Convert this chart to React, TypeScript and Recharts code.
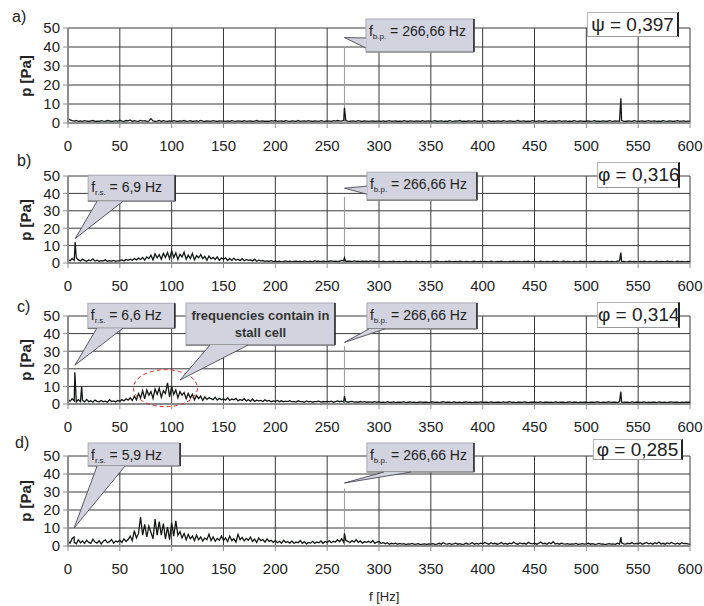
import React from 'react';
import { LineChart, Line, XAxis, YAxis, CartesianGrid, ReferenceDot, ReferenceLine } from 'recharts';

// spectrum bins are 2 Hz apart, starting at 0 Hz
const BIN_HZ = 2;

const xTicks = [0, 50, 100, 150, 200, 250, 300, 350, 400, 450, 500, 550, 600];
const yTicks = [0, 10, 20, 30, 40, 50];

// a) psi = 0,397
const spectrumA = [
  2.4, 1.6, 1.2, 1.0, 1.3, 0.8, 1.1, 0.9, 1.2, 1.0, 0.8, 1.1, 1.3, 0.9, 1.0, 0.8, 1.2, 1.0, 0.9, 1.3, 1.1, 0.8, 1.0, 1.2, 0.9,
  1.5, 1.0, 0.9, 1.3, 1.1, 1.6, 0.8, 1.2, 1.0, 0.9, 1.4, 1.0, 1.2, 0.9, 1.0, 2.3, 1.1, 0.9, 1.0, 1.3, 0.8, 1.2, 1.0, 0.9, 1.1,
  0.9, 1.2, 1.0, 0.8, 1.1, 1.0, 1.3, 0.9, 1.0, 1.2, 0.8, 1.0, 1.1, 0.9, 1.4, 1.0, 0.8, 1.1, 1.0, 0.9, 1.2, 1.0, 0.8, 1.1, 1.0,
  1.0, 0.9, 1.1, 0.8, 1.2, 1.0, 0.9, 1.1, 1.0, 0.8, 1.2, 0.9, 1.0, 1.1, 0.8, 1.0, 1.3, 0.9, 1.0, 1.1, 0.8, 1.0, 0.9, 1.2, 1.0,
  1.4, 0.9, 1.0, 1.1, 0.8, 1.2, 1.0, 0.9, 1.1, 1.0, 0.8, 1.3, 0.9, 1.0, 1.1, 0.9, 1.2, 1.0, 0.8, 1.1, 1.0, 0.9, 1.2, 1.0, 0.9,
  1.1, 1.0, 0.9, 1.2, 1.0, 1.3, 1.1, 1.0, 1.4, 1.2, 1.0, 0.9, 1.1, 1.0, 0.9, 1.2, 1.0, 0.8, 1.1, 1.0, 0.9, 1.0, 1.1, 0.8, 1.0,
  1.0, 0.9, 1.1, 0.8, 1.0, 1.2, 0.9, 1.0, 1.1, 0.8, 1.0, 0.9, 1.2, 1.0, 0.8, 1.1, 1.0, 0.9, 1.1, 1.0, 0.8, 1.2, 0.9, 1.0, 1.1,
  0.9, 1.0, 1.2, 0.8, 1.0, 1.1, 0.9, 1.0, 0.8, 1.2, 1.0, 0.9, 1.1, 1.0, 1.3, 0.9, 1.0, 0.8, 1.1, 1.0, 0.9, 1.2, 1.0, 0.8, 1.0,
  1.1, 0.9, 1.0, 1.2, 0.8, 1.0, 0.9, 1.1, 1.0, 0.8, 1.2, 1.0, 0.9, 1.1, 1.0, 0.8, 1.0, 1.3, 0.9, 1.0, 1.1, 0.8, 1.0, 0.9, 1.2,
  1.0, 0.9, 1.1, 1.0, 0.8, 1.2, 1.0, 0.9, 1.0, 1.1, 0.8, 1.0, 1.2, 0.9, 1.0, 1.1, 0.9, 1.0, 0.8, 1.2, 1.0, 0.9, 1.1, 1.0, 0.8,
  1.0, 1.1, 0.9, 1.0, 1.2, 0.8, 1.0, 0.9, 1.1, 1.0, 0.8, 1.2, 1.0, 0.9, 1.1, 1.0, 0.9, 1.3, 1.0, 0.8, 1.1, 1.0, 0.9, 1.2, 1.0,
  0.9, 1.0, 1.1, 0.8, 1.0, 1.2, 0.9, 1.0, 1.1, 0.9, 1.0, 0.8, 1.2, 1.0, 0.9, 1.1, 1.0, 0.8, 1.0, 1.2, 0.9, 1.0, 1.1, 0.9, 1.0,
  1.0,
];
const peaksA: [number, number][] = [[266.66, 8], [533.3, 13]];

// b) phi = 0,316
const spectrumB = [
  2.0, 1.2, 2.6, 1.5, 3.0, 1.8, 1.2, 2.2, 1.5, 1.0, 1.8, 1.3, 2.4, 1.1, 1.6, 1.0, 1.4, 1.2, 1.8, 1.0, 1.3, 1.1, 1.5, 0.9, 1.2,
  1.4, 1.8, 1.2, 2.0, 1.5, 2.2, 1.6, 2.5, 1.8, 2.8, 2.0, 3.2, 1.6, 3.5, 2.6, 4.5, 1.8, 5.2, 3.0, 4.8, 2.2, 5.5, 3.2, 6.0, 2.4,
  7.0, 3.2, 5.8, 2.0, 5.0, 3.5, 6.2, 2.2, 4.5, 2.6, 5.5, 1.8, 4.2, 3.0, 4.8, 2.5, 3.8, 1.6, 4.0, 2.4, 3.2, 2.0, 3.5, 1.5, 2.8,
  2.2, 3.0, 1.4, 2.6, 1.5, 2.8, 1.6, 2.2, 1.4, 2.5, 1.3, 2.0, 1.5, 1.8, 1.2, 2.2, 1.0, 1.6, 1.2, 1.4, 0.9, 1.2, 1.0, 1.3, 0.8,
  1.0, 0.8, 1.1, 0.7, 0.9, 1.2, 0.8, 1.0, 0.7, 0.9, 1.1, 0.8, 1.0, 0.7, 1.2, 0.9, 0.8, 1.0, 0.7, 1.3, 0.9, 1.0, 0.8, 1.1, 0.9,
  0.8, 1.0, 1.2, 0.9, 1.1, 0.8, 1.0, 1.5, 1.2, 0.9, 1.1, 1.0, 0.8, 1.2, 0.9, 1.0, 0.8, 1.1, 0.9, 1.0, 0.8, 1.2, 0.9, 1.0, 0.8,
  0.9, 0.7, 1.0, 0.8, 0.6, 0.9, 0.8, 1.0, 0.7, 0.8, 0.9, 0.6, 0.8, 1.0, 0.7, 0.9, 0.8, 0.7, 1.0, 0.8, 0.6, 0.9, 0.8, 0.7, 0.9,
  0.8, 0.7, 0.9, 1.0, 0.7, 0.8, 0.6, 0.9, 0.8, 1.1, 0.7, 0.8, 0.9, 0.7, 1.0, 0.8, 0.6, 0.9, 0.8, 0.7, 0.9, 1.0, 0.7, 0.8, 0.9,
  0.7, 0.9, 0.8, 0.6, 1.0, 0.8, 0.7, 0.9, 0.8, 1.0, 0.7, 0.8, 0.6, 0.9, 0.8, 1.0, 0.7, 0.9, 0.8, 0.6, 0.9, 0.8, 1.0, 0.7, 0.8,
  0.9, 0.8, 0.7, 1.0, 0.8, 0.6, 0.9, 0.8, 0.7, 1.0, 0.8, 0.9, 0.7, 0.8, 1.0, 0.7, 0.9, 0.8, 0.6, 0.9, 0.8, 0.7, 1.0, 0.8, 0.9,
  0.8, 0.7, 0.9, 0.8, 1.0, 0.7, 0.8, 0.9, 0.6, 0.8, 1.0, 0.7, 0.9, 0.8, 0.7, 1.0, 1.2, 0.8, 0.9, 0.7, 0.8, 1.0, 0.7, 0.9, 0.8,
  0.7, 0.9, 0.8, 1.0, 0.7, 0.8, 0.9, 0.6, 0.8, 1.0, 0.7, 0.9, 0.8, 0.7, 1.0, 0.8, 0.9, 0.7, 0.8, 1.0, 0.7, 0.9, 0.8, 0.7, 0.9,
  0.8,
];
const peaksB: [number, number][] = [[6.9, 12], [266.66, 3], [533.3, 6]];

// c) phi = 0,314
const spectrumC = [
  2.8, 1.5, 3.0, 1.8, 1.2, 2.5, 1.4, 2.0, 1.2, 2.6, 1.3, 1.8, 1.0, 2.2, 1.5, 1.2, 2.0, 1.3, 1.6, 1.0, 2.4, 1.4, 1.8, 1.2, 2.0,
  1.6, 2.5, 1.8, 3.0, 2.2, 3.5, 2.0, 4.5, 2.4, 6.0, 3.5, 7.5, 3.0, 8.0, 5.0, 7.0, 3.2, 8.5, 5.5, 9.0, 3.8, 7.5, 6.0, 12.0, 4.0,
  10.0, 5.5, 8.0, 3.5, 7.0, 5.0, 6.5, 3.0, 6.0, 3.5, 5.5, 2.4, 4.8, 3.0, 4.5, 2.0, 4.0, 2.6, 3.5, 3.0, 2.5, 3.8, 2.2, 3.2, 2.4,
  3.0, 2.2, 3.5, 2.0, 2.8, 2.4, 3.2, 1.8, 2.6, 2.0, 3.0, 1.8, 2.4, 1.6, 2.8, 1.5, 2.2, 1.8, 2.0, 1.4, 2.4, 1.6, 2.0, 1.3, 1.8,
  1.5, 2.0, 1.3, 1.8, 1.2, 1.6, 1.4, 1.9, 1.2, 1.5, 1.1, 1.8, 1.3, 1.4, 1.0, 1.7, 1.2, 1.5, 1.0, 1.4, 1.3, 1.6, 1.1, 1.4, 1.2,
  1.5, 1.2, 1.6, 1.0, 1.4, 1.8, 1.3, 1.6, 1.2, 1.4, 1.0, 1.3, 1.5, 1.1, 1.2, 1.0, 1.4, 1.1, 1.3, 1.0, 1.2, 1.1, 1.0, 1.3, 0.9,
  1.2, 0.9, 1.1, 0.8, 1.3, 1.0, 0.9, 1.2, 0.8, 1.0, 1.1, 0.9, 1.3, 0.8, 1.0, 1.2, 0.9, 1.1, 0.8, 1.0, 1.2, 0.9, 1.0, 1.1, 0.8,
  1.0, 1.2, 0.9, 1.1, 0.8, 1.0, 1.3, 0.9, 1.0, 1.1, 0.8, 1.2, 1.0, 0.9, 1.1, 0.8, 1.0, 1.2, 0.9, 1.0, 0.8, 1.1, 1.0, 0.9, 1.2,
  0.9, 1.0, 1.1, 0.8, 1.2, 1.0, 0.9, 1.1, 1.0, 0.8, 1.2, 0.9, 1.0, 1.3, 0.9, 1.0, 0.8, 1.1, 1.0, 0.9, 1.2, 1.0, 0.8, 1.1, 1.0,
  1.1, 0.9, 1.0, 1.2, 0.8, 1.0, 1.1, 0.9, 1.0, 0.8, 1.2, 1.0, 0.9, 1.1, 1.0, 0.8, 1.0, 1.2, 0.9, 1.1, 1.0, 0.8, 1.0, 0.9, 1.1,
  1.0, 0.8, 1.1, 1.0, 0.9, 1.2, 1.0, 0.8, 1.1, 0.9, 1.0, 1.2, 0.9, 1.0, 1.1, 0.8, 1.3, 1.0, 0.9, 1.1, 1.0, 0.8, 1.2, 0.9, 1.0,
  1.1, 0.9, 1.0, 1.2, 0.8, 1.0, 0.9, 1.1, 1.0, 0.8, 1.2, 1.0, 0.9, 1.1, 0.8, 1.0, 1.2, 0.9, 1.0, 1.1, 0.8, 1.0, 0.9, 1.1, 1.0,
  1.0,
];
const peaksC: [number, number][] = [[6.6, 18], [13.2, 10], [266.66, 4.5], [533.3, 7]];

// d) phi = 0,285
const spectrumD = [
  3.0, 1.5, 4.2, 2.0, 1.2, 3.5, 1.8, 2.8, 1.4, 3.2, 2.0, 1.5, 3.8, 2.2, 1.6, 3.0, 1.2, 2.6, 3.4, 1.8, 2.4, 3.6, 1.6, 2.8, 2.2,
  3.2, 2.0, 4.0, 2.5, 3.6, 5.5, 3.0, 8.5, 4.5, 7.0, 16.0, 6.0, 12.0, 5.0, 11.0, 7.5, 4.0, 15.0, 6.0, 13.5, 6.0, 12.5, 4.0, 10.5, 3.5,
  13.0, 5.5, 14.0, 6.0, 8.0, 4.5, 7.0, 3.5, 6.5, 4.0, 5.5, 3.0, 6.0, 3.5, 5.0, 2.8, 4.5, 3.5, 6.5, 3.0, 5.0, 2.6, 4.2, 3.2, 5.5,
  3.0, 4.5, 2.5, 5.5, 3.0, 4.0, 2.2, 6.5, 3.5, 4.8, 2.8, 4.2, 3.2, 5.0, 2.5, 3.8, 2.0, 4.5, 3.0, 3.6, 2.2, 4.0, 2.6, 3.2, 2.0,
  3.0, 1.8, 2.6, 1.5, 3.2, 2.0, 2.4, 1.6, 2.8, 1.4, 2.2, 1.8, 3.0, 1.5, 2.4, 1.2, 2.0, 1.6, 2.6, 1.4, 2.2, 1.8, 2.8, 1.5, 2.5,
  2.0, 3.0, 1.8, 2.6, 2.2, 3.5, 2.4, 4.0, 2.0, 3.2, 2.6, 1.8, 3.0, 2.2, 3.6, 2.0, 2.8, 1.6, 2.4, 2.0, 2.6, 1.8, 3.0, 1.5, 2.2,
  2.5, 1.4, 2.0, 1.2, 1.8, 1.0, 1.5, 1.2, 1.6, 0.9, 1.4, 1.1, 1.3, 0.8, 1.2, 1.0, 1.4, 0.9, 1.1, 1.3, 0.8, 1.0, 1.2, 0.9, 1.1,
  1.0, 1.3, 0.9, 1.1, 1.5, 1.0, 1.8, 1.2, 1.0, 1.4, 0.9, 1.2, 1.6, 1.0, 1.3, 0.9, 1.1, 1.5, 1.0, 1.2, 1.8, 1.0, 1.4, 1.1, 1.6,
  1.2, 2.0, 1.4, 1.0, 1.8, 1.2, 1.5, 1.0, 1.3, 1.9, 1.1, 1.4, 1.0, 1.6, 1.2, 2.2, 1.3, 1.0, 1.7, 1.2, 1.5, 1.0, 2.0, 1.4, 1.2,
  1.6, 1.0, 1.4, 2.2, 1.2, 1.5, 1.0, 1.8, 1.3, 2.4, 1.1, 1.4, 1.0, 1.6, 1.2, 1.0, 1.3, 0.9, 1.2, 1.0, 1.4, 0.9, 1.1, 1.3, 1.0,
  1.2, 1.5, 1.0, 1.3, 0.9, 1.1, 1.4, 1.0, 1.2, 0.8, 1.1, 1.3, 1.0, 1.2, 0.9, 1.6, 1.1, 1.8, 1.2, 1.0, 1.5, 1.2, 1.9, 1.1, 1.4,
  1.2, 1.8, 1.0, 1.5, 2.0, 1.2, 1.6, 1.0, 1.8, 1.3, 2.2, 1.1, 1.5, 1.0, 1.7, 1.2, 2.0, 1.4, 1.1, 1.6, 1.0, 1.8, 1.3, 1.5, 1.2,
  1.0,
];
const peaksD: [number, number][] = [[5.9, 5], [266.66, 7], [533.3, 5]];

const toRows = (vals: number[], peaks: [number, number][]) =>
  [...vals.map((p, i) => ({ f: i * BIN_HZ, p })), ...peaks.map(([f, p]) => ({ f, p }))].sort((a, b) => a.f - b.f);

const FONT = '"Liberation Sans", Arial, sans-serif';
const BUBBLE_FILL = '#d2d3de';
const GRID = '#3a3a3a';
const AXIS = '#8c8c8c';

type BubbleKind = 'bp' | 'rs' | 'stall';

interface Bubble {
  x: number; // frequency the pointer aims at
  y: number; // amplitude the pointer aims at
  dx: number; // box offset from the tip, px
  dy: number;
  w: number;
  h: number;
  base: [number, number, number, number]; // pointer base, relative to box corner
  kind: BubbleKind;
  label?: string;
}

const bubbleText = (b: Bubble, bx: number, by: number) => {
  if (b.kind === 'stall') {
    return (
      <text x={bx + b.w / 2} y={by + 17} textAnchor="middle" fontSize={13} fontWeight="bold" fill="#333" fontFamily={FONT}>
        <tspan x={bx + b.w / 2}>frequencies contain in</tspan>
        <tspan x={bx + b.w / 2} dy={17}>stall cell</tspan>
      </text>
    );
  }
  const sub = b.kind === 'bp' ? 'b.p.' : 'r.s.';
  return (
    <text x={bx + 3} y={by + 17} fontSize={14} fill="#222" fontFamily={FONT}>
      <tspan>f</tspan>
      <tspan fontSize={8} dy={3}>{sub}</tspan>
      <tspan dy={-3}>{` = ${b.label}`}</tspan>
    </text>
  );
};

const bubbleShape = (b: Bubble) => (props: any) => {
  const { cx, cy } = props;
  if (cx == null || cy == null) return <g />;
  const bx = cx + b.dx;
  const by = cy + b.dy;
  const [p1x, p1y, p2x, p2y] = b.base;
  const a = `${bx + p1x},${by + p1y}`;
  const c = `${bx + p2x},${by + p2y}`;
  return (
    <g>
      <rect x={bx} y={by} width={b.w} height={b.h} fill={BUBBLE_FILL} stroke="#a9a9b4" strokeWidth={1} />
      <line x1={bx + b.w} y1={by} x2={bx + b.w} y2={by + b.h} stroke="#2a2a2a" strokeWidth={1.6} />
      <line x1={bx} y1={by + b.h} x2={bx + b.w} y2={by + b.h} stroke="#777" strokeWidth={1.2} />
      <polygon points={`${cx},${cy} ${a} ${c}`} fill={BUBBLE_FILL} />
      <polyline points={`${a} ${cx},${cy} ${c}`} fill="none" stroke="#4a4a55" strokeWidth={0.9} />
      {bubbleText(b, bx, by)}
    </g>
  );
};

const ellipseShape = (props: any) => {
  const { cx, cy } = props;
  if (cx == null || cy == null) return <g />;
  return <ellipse cx={cx} cy={cy} rx={32} ry={18.5} fill="none" stroke="#e02828" strokeWidth={1} strokeDasharray="4 3" />;
};

interface PanelProps {
  top: number;
  plotH: number;
  rows: { f: number; p: number }[];
  bubbles: Bubble[];
  leaderTop: number;
  stallRing?: boolean;
}

const MARGIN_TOP = 28;
const XAXIS_H = 32;

const Panel: React.FC<PanelProps> = ({ top, plotH, rows, bubbles, leaderTop, stallRing }) => (
  <div style={{ position: 'absolute', left: 0, top }}>
    <LineChart
      width={704}
      height={MARGIN_TOP + plotH + XAXIS_H}
      data={rows}
      margin={{ top: MARGIN_TOP, right: 14, bottom: 0, left: 30 }}
    >
      <CartesianGrid stroke={GRID} strokeWidth={1} />
      <XAxis
        dataKey="f"
        type="number"
        domain={[0, 600]}
        ticks={xTicks}
        interval={0}
        allowDataOverflow
        height={XAXIS_H}
        tickSize={5}
        tickMargin={12}
        axisLine={{ stroke: AXIS, strokeWidth: 2 }}
        tickLine={{ stroke: AXIS }}
        tick={{ fontSize: 15, fill: '#222', fontFamily: FONT }}
      />
      <YAxis
        type="number"
        domain={[0, 50]}
        ticks={yTicks}
        interval={0}
        allowDataOverflow
        width={38}
        tickSize={5}
        tickMargin={3}
        axisLine={{ stroke: AXIS, strokeWidth: 2 }}
        tickLine={{ stroke: AXIS }}
        tick={{ fontSize: 15, fill: '#222', fontFamily: FONT }}
      />
      <ReferenceLine
        segment={[{ x: 266.66, y: 0 }, { x: 266.66, y: leaderTop }]}
        stroke="#9c9c9c"
        strokeWidth={1}
      />
      <Line type="linear" dataKey="p" stroke="#141814" strokeWidth={1.3} dot={false} isAnimationActive={false} />
      {stallRing && <ReferenceDot x={94} y={9} r={0} shape={ellipseShape} />}
      {bubbles.map((b, i) => (
        <ReferenceDot key={i} x={b.x} y={b.y} r={0} shape={bubbleShape(b)} />
      ))}
    </LineChart>
  </div>
);

const bubblesA: Bubble[] = [
  { x: 266.66, y: 45, dx: 21.5, dy: -18.5, w: 108, h: 33, base: [0, 19, 0, 29], kind: 'bp', label: '266,66 Hz' },
];
const bubblesB: Bubble[] = [
  { x: 6.9, y: 14, dx: 13, dy: -63.5, w: 87, h: 26, base: [9, 26, 35, 26], kind: 'rs', label: '6,9 Hz' },
  { x: 266.66, y: 43, dx: 22.5, dy: -16, w: 110, h: 28, base: [0, 14, 0, 22], kind: 'bp', label: '266,66 Hz' },
];
const bubblesC: Bubble[] = [
  { x: 6.6, y: 22, dx: 13, dy: -62, w: 87, h: 25, base: [9, 25, 35, 25], kind: 'rs', label: '6,6 Hz' },
  { x: 108, y: 13.6, dx: 6, dy: -77, w: 149, h: 42, base: [24, 42, 62, 42], kind: 'stall' },
  { x: 266.66, y: 35, dx: 22.5, dy: -39.5, w: 110, h: 26, base: [2, 26, 18, 26], kind: 'bp', label: '266,66 Hz' },
];
const bubblesD: Bubble[] = [
  { x: 5.9, y: 10, dx: 14, dy: -85, w: 92, h: 23, base: [9, 23, 37, 23], kind: 'rs', label: '5,9 Hz' },
  { x: 266.66, y: 35, dx: 22.5, dy: -40, w: 107, h: 29, base: [17, 29, 44, 29], kind: 'bp', label: '266,66 Hz' },
];

const flowBox = (left: number, top: number, w: number, h: number, text: string) => (
  <div
    style={{
      position: 'absolute',
      left,
      top,
      width: w,
      height: h,
      boxSizing: 'border-box',
      background: '#fff',
      borderTop: '1px solid #b5b5b5',
      borderLeft: '1px solid #b5b5b5',
      borderRight: '2px solid #222',
      borderBottom: '1px solid #999',
      fontFamily: FONT,
      fontSize: 19,
      lineHeight: `${h - 2}px`,
      textAlign: 'center',
      color: '#222',
      whiteSpace: 'nowrap',
    }}
  >
    {text}
  </div>
);

const panelLabel = (left: number, top: number, text: string) => (
  <div style={{ position: 'absolute', left, top, fontFamily: FONT, fontSize: 16, lineHeight: 1, color: '#222' }}>{text}</div>
);

const yLabel = (centerY: number) => (
  <div
    style={{
      position: 'absolute',
      left: 25,
      top: centerY,
      transform: 'translate(-50%, -50%) rotate(-90deg)',
      fontFamily: FONT,
      fontSize: 15,
      fontWeight: 'bold',
      whiteSpace: 'nowrap',
      color: '#222',
    }}
  >
    p [Pa]
  </div>
);

export default function App() {
  return (
    <div style={{ position: 'absolute', left: 0, top: 0, width: 704, height: 606, background: '#fff', overflow: 'hidden' }}>
      <Panel top={0} plotH={95} rows={toRows(spectrumA, peaksA)} bubbles={bubblesA} leaderTop={40} />
      <Panel top={148} plotH={87} rows={toRows(spectrumB, peaksB)} bubbles={bubblesB} leaderTop={38} />
      <Panel top={288} plotH={88} rows={toRows(spectrumC, peaksC)} bubbles={bubblesC} leaderTop={33} stallRing />
      <Panel top={428} plotH={90} rows={toRows(spectrumD, peaksD)} bubbles={bubblesD} leaderTop={32} />

      {panelLabel(12, 9, 'a)')}
      {panelLabel(17, 153, 'b)')}
      {panelLabel(17, 299, 'c)')}
      {panelLabel(15, 435, 'd)')}

      {yLabel(76)}
      {yLabel(220)}
      {yLabel(360)}
      {yLabel(501)}

      {flowBox(587, 12, 92, 25, 'ψ = 0,397')}
      {flowBox(597, 162, 83, 26, 'φ = 0,316')}
      {flowBox(597, 302, 83, 26, 'φ = 0,314')}
      {flowBox(593, 439, 90, 21, 'φ = 0,285')}

      <div style={{ position: 'absolute', left: 369, top: 589, fontFamily: FONT, fontSize: 13, color: '#222' }}>f [Hz]</div>
    </div>
  );
}
